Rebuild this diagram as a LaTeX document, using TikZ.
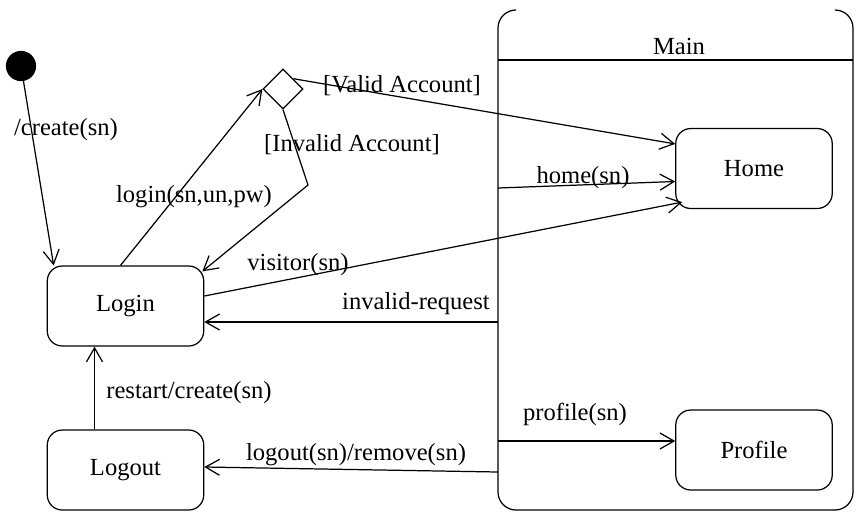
\documentclass[tikz,border=0pt]{standalone}
\usepackage{fontspec}
\setmainfont{Liberation Serif}
\usetikzlibrary{shapes.geometric}
\usetikzlibrary{arrows.meta}

\begin{document}
\begin{tikzpicture}[x=0.02cm, y=-0.02cm, line width=0.7pt, >={Straight Barb[length=2.8mm,width=3.2mm]}, font=\fontsize{14}{16}\selectfont]
      \useasboundingbox (0,0) rectangle (856,512);
      \tikzstyle {state} = [shape=rectangle, draw=black, rounded corners=0.3cm, minimum width=3.13cm, minimum height=1.6cm];
      \node (dot) [circle, draw=black, fill=black, minimum size=0.58cm, inner sep=0] at (21,66) {};
      \node (l) [state] at (125.5,306) {Login};
      \node (o) [state] at (125.5,470) {Logout};
      \node (d) [diamond, draw=black, minimum size=0.8cm, inner sep=0] at (283,89) {};
      % composite state Main
      \draw [rounded corners=0.36cm] (516,10) -- (498,10) -- (498,510) -- (853,510) -- (853,10) -- (835,10);
      \draw (498,60) -- (853,60);
      \node (m) at (679,46) {Main};
      \node (h) [state] at (754,168.5) {Home};
      \node (p) [state] at (754,450) {Profile};
      \coordinate (c) at (308,185);
      \coordinate (hs) at (498,188);
      \coordinate (ir) at (498,322);
      \coordinate (lo) at (498,472);
      \coordinate (ps) at (498,441);
      \draw [->] (dot) -- ([shift={(7,0)}]l.north west);
      \draw [->] ([shift={(-5,0)}]l.north) -- (d.west);
      \draw [->] (d.south) -- (c) -- ([shift={(-2,6)}]l.north east);
      \draw [->] (d.north east) -- ([shift={(0,16)}]h.north west);
      \draw [->] (hs) -- ([shift={(0,13)}]h.west);
      \draw [->] ([shift={(0,-10)}]l.east) -- ([shift={(7,-7)}]h.south west);
      \draw [->] (ir) -- ([shift={(0,16)}]l.east);
      \draw [->] ([shift={(-31,0)}]o.north) -- ([shift={(-31,0)}]l.south);
      \draw [->] (lo) -- ([shift={(0,-3)}]o.east);
      \draw [->] (ps) -- ([shift={(0,-9)}]p.west);
      \node (t1) at (66,130) {/create(sn)};
      \node (t2) at (194,197) {login(sn,un,pw)};
      \node (t3) at (402,86) {[Valid Account]};
      \node (t4) at (352,145) {[Invalid Account]};
      \node (t5) at (298,265) {visitor(sn)};
      \node (t6) at (416,304) {invalid-request};
      \node (t7) at (583,178) {home(sn)};
      \node (t8) at (189,393) {restart/create(sn)};
      \node (t9) at (356,455) {logout(sn)/remove(sn)};
      \node (t10) at (575,414) {profile(sn)};
    \end{tikzpicture}
\end{document}
